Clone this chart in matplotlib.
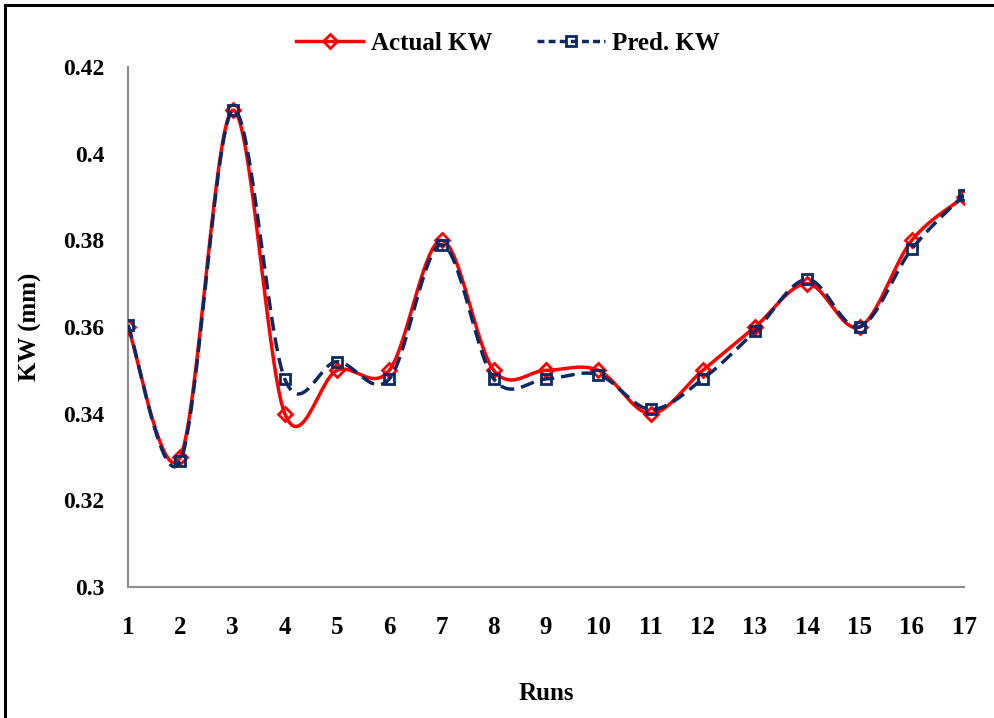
import numpy as np
import matplotlib
matplotlib.use("Agg")
import matplotlib.pyplot as plt
from matplotlib.patches import Rectangle
from matplotlib.lines import Line2D

plt.rcParams['font.family'] = ['Liberation Serif', 'DejaVu Serif']
plt.rcParams['font.weight'] = 'bold'

runs = list(range(1, 18))
actual_kw = [0.360, 0.330, 0.410, 0.340, 0.350, 0.350, 0.380, 0.350, 0.350,
             0.350, 0.340, 0.350, 0.360, 0.370, 0.360, 0.380, 0.390]
pred_kw = [0.3605, 0.329, 0.410, 0.348, 0.352, 0.348, 0.379, 0.348, 0.348,
           0.349, 0.341, 0.348, 0.359, 0.371, 0.360, 0.378, 0.3905]
y_ticks = [0.3, 0.32, 0.34, 0.36, 0.38, 0.4, 0.42]
y_tick_labels = ['0.3', '0.32', '0.34', '0.36', '0.38', '0.4', '0.42']


def smooth(x, y, n=30):
    """Cubic Bezier smoothing through every point (Catmull-Rom tangents)."""
    x = np.asarray(x, float)
    y = np.asarray(y, float)
    px = np.concatenate([[x[0]], x, [x[-1]]])
    py = np.concatenate([[y[0]], y, [y[-1]]])
    xs, ys = [], []
    t = np.linspace(0, 1, n)
    for i in range(len(x) - 1):
        p0 = np.array([px[i + 1], py[i + 1]])
        p3 = np.array([px[i + 2], py[i + 2]])
        c1 = p0 + (np.array([px[i + 2], py[i + 2]]) - np.array([px[i], py[i]])) / 6
        c2 = p3 - (np.array([px[i + 3], py[i + 3]]) - np.array([px[i + 1], py[i + 1]])) / 6
        b = ((1 - t) ** 3)[:, None] * p0 + (3 * (1 - t) ** 2 * t)[:, None] * c1 \
            + (3 * (1 - t) * t ** 2)[:, None] * c2 + (t ** 3)[:, None] * p3
        xs.append(b[:, 0])
        ys.append(b[:, 1])
    return np.concatenate(xs), np.concatenate(ys)


fig = plt.figure(figsize=(9.95, 7.18), dpi=100)
fig.patches.append(Rectangle((5 / 995, -0.05), 1.2, 1 - 5 / 718 + 0.05,
                             transform=fig.transFigure, fill=False,
                             edgecolor='black', linewidth=2.2, zorder=0))
ax = fig.add_axes([128 / 995, 131 / 718, (964 - 128) / 995, (587 - 67) / 718])

red = '#FF0000'
navy = '#0B2A63'
fs = 18

sx, sy = smooth(runs, actual_kw)
ax.plot(sx, sy, color=red, lw=2.5, zorder=3)
ax.plot(runs, actual_kw, linestyle='none', marker='D', ms=7.5, mfc='none',
        mec=red, mew=2, zorder=4)

px_, py_ = smooth(runs, pred_kw)
ax.plot(px_, py_, color=navy, lw=2.5, dashes=(4, 2), zorder=5)
ax.plot(runs, pred_kw, linestyle='none', marker='s', ms=7.5, mfc='none',
        mec=navy, mew=2, zorder=6)

ax.set_xlim(1, 17)
ax.set_ylim(0.3, 0.42)
ax.set_xticks(runs)
ax.set_xticklabels([str(r) for r in runs])
ax.set_yticks(y_ticks)
ax.set_yticklabels(y_tick_labels)
ax.tick_params(length=0)
ax.tick_params(axis='x', pad=21, labelsize=fs)
ax.tick_params(axis='y', pad=17, labelsize=17)
for s in ['top', 'right']:
    ax.spines[s].set_visible(False)
for s in ['left', 'bottom']:
    ax.spines[s].set_color('#8C8C8C')
    ax.spines[s].set_linewidth(1.5)

ax.set_xlabel('Runs', fontsize=fs, fontweight='bold', labelpad=31)
ax.set_ylabel('KW (mm)', fontsize=fs, fontweight='bold', labelpad=15)

h1 = Line2D([], [], color=red, lw=2.5, marker='D', ms=7.5, mfc='none', mec=red, mew=2)
h2 = Line2D([], [], color=navy, lw=2.5, dashes=(2, 1.2), marker='s', ms=7.5,
            mfc='none', mec=navy, mew=2)
fig.legend([h1, h2], ['Actual KW', 'Pred. KW'], loc='center',
           bbox_to_anchor=(508 / 995, 1 - 43 / 718), ncol=2, frameon=False,
           handlelength=2.7, columnspacing=1.8, handletextpad=0.3,
           prop={'weight': 'bold', 'size': fs})

fig.savefig('out.png', dpi=100)
